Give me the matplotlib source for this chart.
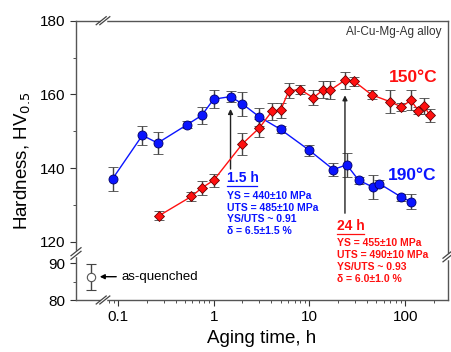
import numpy as np
import matplotlib
matplotlib.use("Agg")
import matplotlib.pyplot as plt
from matplotlib.ticker import FixedLocator, NullFormatter

plt.rcParams['font.family'] = ['Liberation Sans', 'DejaVu Sans']

# 190 C aging curve
t190 = [0.088, 0.18, 0.26, 0.53, 0.75, 1.0, 1.5, 2.0, 3.0, 5.0, 10.0, 17.8, 24.5, 32.7, 46.4, 53.6, 91.5, 114.5]
hv190 = [137.1, 148.9, 146.8, 151.8, 154.3, 158.7, 159.4, 157.4, 153.9, 150.5, 144.8, 139.6, 140.9, 136.7, 134.8, 135.8, 132.1, 130.9]
err190 = [3.2, 2.6, 3.0, 1.0, 2.4, 2.4, 1.5, 3.2, 2.5, 1.0, 1.4, 1.7, 3.2, 1.0, 3.3, 1.0, 1.0, 2.0]

# 150 C aging curve
t150 = [0.27, 0.585, 0.75, 1.0, 2.0, 3.0, 4.05, 5.0, 6.1, 8.0, 11.0, 14.0, 16.4, 23.3, 29.2, 44.6, 69.8, 91.5, 114.5, 137.6, 157.7, 180.6]
hv150 = [127.1, 132.3, 134.6, 136.7, 146.6, 150.9, 155.4, 155.7, 161.0, 161.3, 159.1, 161.3, 161.1, 163.8, 163.6, 159.9, 158.0, 156.6, 158.4, 155.6, 156.9, 154.3]
err150 = [1.2, 1.2, 2.0, 1.8, 3.0, 2.5, 2.4, 2.0, 2.0, 1.2, 2.0, 2.4, 2.4, 2.3, 1.2, 1.2, 3.1, 1.0, 2.7, 1.0, 2.2, 1.8]

# as-quenched
t_aq = [0.052]
hv_aq = [86.2]
err_aq = [3.6]

props_15 = ["YS = 440\u00b110 MPa", "UTS = 485\u00b110 MPa", "YS/UTS ~ 0.91", "\u03b4 = 6.5\u00b11.5 %"]
props_24 = ["YS = 455\u00b110 MPa", "UTS = 490\u00b110 MPa", "YS/UTS ~ 0.93", "\u03b4 = 6.0\u00b11.0 %"]

BLUE = '#0a14ff'
RED = '#ff1010'

# broken y axis: 80-92.5 below, 116.8-180 above
LO_TOP, HI_BOT = 92.5, 116.8


def fwd(y):
    y = np.asarray(y, dtype=float)
    return np.where(y <= LO_TOP, y - 80.0,
                    np.where(y >= HI_BOT, y - HI_BOT + (LO_TOP - 80.0) + 0.1,
                             LO_TOP - 80.0 + 0.1 * (y - LO_TOP) / (HI_BOT - LO_TOP)))


def inv(t):
    t = np.asarray(t, dtype=float)
    g = LO_TOP - 80.0
    return np.where(t <= g, t + 80.0,
                    np.where(t >= g + 0.1, t - g - 0.1 + HI_BOT,
                             LO_TOP + (t - g) / 0.1 * (HI_BOT - LO_TOP)))


W, H = 451, 352
fig = plt.figure(figsize=(W / 100, H / 100), dpi=100)
x0, x1, y0, y1 = 76, 448, 20.7, 300
ax = fig.add_axes([x0 / W, 1 - y1 / H, (x1 - x0) / W, (y1 - y0) / H])

ax.set_xscale('log')
ax.set_yscale('function', functions=(fwd, inv))
ax.set_xlim(0.0365, 280)
ax.set_ylim(80, 180)

ebar = dict(ecolor='#444444', elinewidth=1, capsize=3.5, capthick=1)
ax.errorbar(t190, hv190, yerr=err190, color=BLUE, lw=1, marker='o', ms=6.5,
            mfc=BLUE, mec='#000066', mew=0.6, zorder=3, **ebar)
ax.errorbar(t150, hv150, yerr=err150, color=RED, lw=1, marker='D', ms=5.5,
            mfc=RED, mec='#660000', mew=0.6, zorder=3, **ebar)
ax.errorbar(t_aq, hv_aq, yerr=err_aq, color='#555555', marker='o', ms=6,
            mfc='white', mec='#555555', mew=0.8, ls='none', **ebar)

# ticks
ax.yaxis.set_major_locator(FixedLocator([80, 90, 120, 140, 160, 180]))
ax.yaxis.set_minor_locator(FixedLocator([85, 130, 150, 170]))
ax.yaxis.set_minor_formatter(NullFormatter())
ax.set_yticklabels(['80', '90', '120', '140', '160', '180'])
ax.xaxis.set_major_locator(FixedLocator([0.1, 1, 10, 100]))
minors = [m * 10.0 ** d for d in range(-2, 3) for m in range(2, 10)]
minors = [v for v in minors if 0.075 < v < 280]
ax.xaxis.set_minor_locator(FixedLocator(minors))
ax.xaxis.set_minor_formatter(NullFormatter())
ax.set_xticklabels(['0.1', '1', '10', '100'])
ax.tick_params(which='both', direction='out', colors='#333333', labelsize=11,
               top=False, right=False)
ax.tick_params(which='major', length=4)
ax.tick_params(which='minor', length=2.5)
ax.tick_params(labelcolor='black')
for s in ax.spines.values():
    s.set_color('#555555')
    s.set_linewidth(1)

ax.set_xlabel('Aging time, h', fontsize=13.5, labelpad=4)
ax.set_ylabel('Hardness, HV$_{0.5}$', fontsize=13.5, labelpad=5)


def px(x, y):
    # pixel position -> axes fraction
    return ((x - x0) / (x1 - x0), (y1 - y) / (y1 - y0))


def brk(xc, yc, horizontal):
    # small white gap plus two slashes across a spine
    fx, fy = px(xc, yc)
    dx, dy = 5 / (x1 - x0), 4 / (y1 - y0)
    if horizontal:
        ax.plot([fx - 1.5 / (x1 - x0), fx + 1.5 / (x1 - x0)], [fy, fy], color='white', lw=2.5,
                transform=ax.transAxes, clip_on=False, zorder=5)
        for off in (-1.8, 1.8):
            o = off / (x1 - x0)
            ax.plot([fx + o - dx, fx + o + dx], [fy - dy, fy + dy], color='#444444', lw=0.9,
                    transform=ax.transAxes, clip_on=False, zorder=6)
    else:
        ax.plot([fx, fx], [fy - 1.5 / (y1 - y0), fy + 1.5 / (y1 - y0)], color='white', lw=2.5,
                transform=ax.transAxes, clip_on=False, zorder=5)
        for off in (-1.8, 1.8):
            o = off / (y1 - y0)
            ax.plot([fx - dx, fx + dx], [fy + o - dy, fy + o + dy], color='#444444', lw=0.9,
                    transform=ax.transAxes, clip_on=False, zorder=6)


brk(103, y0, True)
brk(103, y1, True)
brk(x0, 253.5, False)
brk(x1, 256, False)

# annotations
ax.text(*px(441, 32), 'Al-Cu-Mg-Ag alloy', transform=ax.transAxes, ha='right', va='center',
        fontsize=8.5, color='#333333')
ax.text(*px(438, 78), '150\u00b0C', transform=ax.transAxes, ha='right', va='center',
        fontsize=12.5, color=RED, fontweight='bold')
ax.text(*px(436, 175), '190\u00b0C', transform=ax.transAxes, ha='right', va='center',
        fontsize=12.5, color=BLUE, fontweight='bold')

ax.annotate('', xy=(1.5, 156.8), xytext=(1.5, 139.0),
            arrowprops=dict(arrowstyle='-|>', color='#222222', lw=1, mutation_scale=7))
ax.annotate('', xy=(23.5, 160.5), xytext=(23.5, 127.0),
            arrowprops=dict(arrowstyle='-|>', color='#222222', lw=1, mutation_scale=7))

ax.text(*px(227, 178), '1.5 h', transform=ax.transAxes, ha='left', va='center',
        fontsize=10, color=BLUE, fontweight='bold')
ax.plot([px(227, 0)[0], px(257, 0)[0]], [px(0, 185.5)[1]] * 2, color=BLUE, lw=0.9,
        transform=ax.transAxes)
for i, line in enumerate(props_15):
    ax.text(*px(227, 196 + 11.7 * i), line, transform=ax.transAxes, ha='left', va='center',
            fontsize=7.5, color=BLUE, fontweight='bold')

ax.text(*px(337, 226), '24 h', transform=ax.transAxes, ha='left', va='center',
        fontsize=10, color=RED, fontweight='bold')
ax.plot([px(337, 0)[0], px(364, 0)[0]], [px(0, 233.5)[1]] * 2, color=RED, lw=0.9,
        transform=ax.transAxes)
for i, line in enumerate(props_24):
    ax.text(*px(337, 243 + 12 * i), line, transform=ax.transAxes, ha='left', va='center',
            fontsize=7.5, color=RED, fontweight='bold')

ax.annotate('', xy=px(97, 276.7), xytext=px(119, 276.7), xycoords='axes fraction',
            textcoords='axes fraction',
            arrowprops=dict(arrowstyle='-|>', color='black', lw=1, mutation_scale=7))
ax.text(*px(121, 276.7), 'as-quenched', transform=ax.transAxes, ha='left', va='center',
        fontsize=9.5, color='black')

fig.savefig('out.png', dpi=100)
